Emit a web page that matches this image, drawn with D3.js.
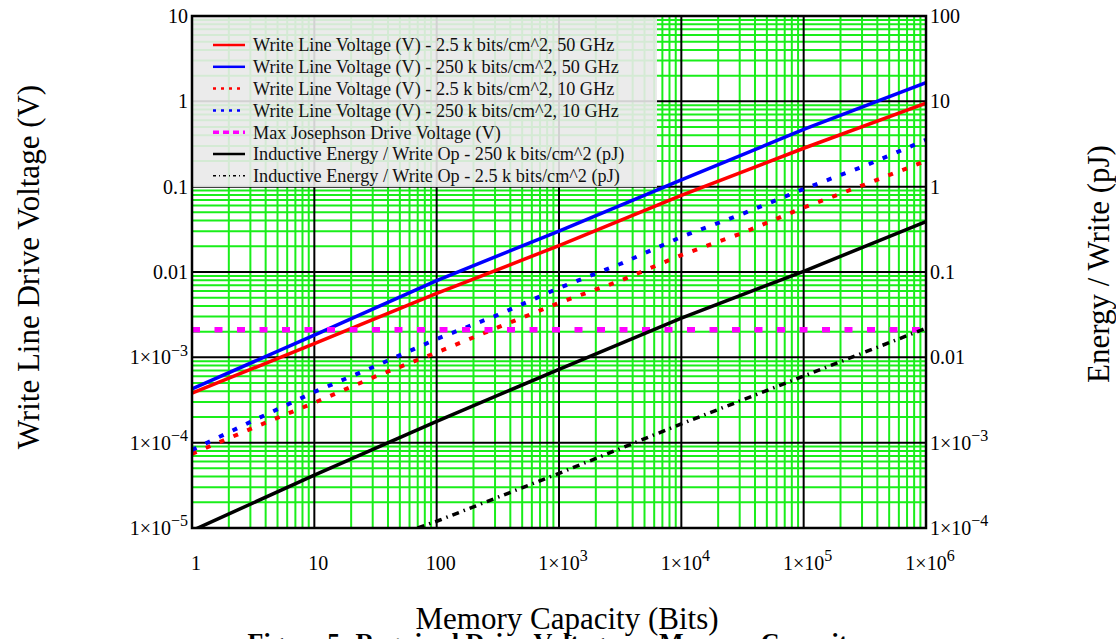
<!DOCTYPE html>
<html lang="en">
<head>
<meta charset="UTF-8">
<title>Write Line Drive Voltage vs Memory Capacity</title>
<script src="https://cdn.jsdelivr.net/npm/d3@7"></script>
<style>
  body { margin: 0; background: #fff; }
  svg { font-family: "Liberation Serif", "Times New Roman", serif; }
  .grid-minor line { stroke: #1aee1a; stroke-width: 2; }
  .grid-major line { stroke: #000; stroke-width: 2; }
  .tick-label { font-size: 20px; fill: #000; }
  .axis-title { font-size: 31px; fill: #000; }
  .legend text { font-size: 18.2px; fill: #111; }
</style>
</head>
<body>
<svg id="chart" width="1116" height="639"></svg>
<script>
// memory capacity (bits) sample points
var capacity = [1, 10, 100, 1000, 10000, 100000, 1000000];
var capacityHalf = [1, 3.162, 10, 31.62, 100, 316.2, 1000, 3162, 10000, 31623, 100000, 316228, 1000000];
var capacityDashDot = [70, 100, 1000, 10000, 100000, 1000000];
var capacityFlat = [1, 1000000];

// write line voltage (V), left axis
var v2k5at50 = [3.8e-4, 1.45e-3, 5.6e-3, 0.0204, 0.079, 0.282, 0.955];
var v250kat50 = [4.27e-4, 1.82e-3, 7.94e-3, 0.0302, 0.120, 0.468, 1.66];
var v2k5at10 = [7.4e-5, 1.49e-4, 2.94e-4, 5.97e-4, 1.14e-3, 2.24e-3, 4.35e-3, 7.9e-3, 0.0158, 0.0287, 0.057, 0.106, 0.200];
var v250kat10 = [8.2e-5, 1.81e-4, 3.93e-4, 7.9e-4, 1.64e-3, 3.14e-3, 6.5e-3, 0.0124, 0.0258, 0.048, 0.094, 0.175, 0.354];
var maxJosephson = [2.1e-3, 2.1e-3];

// inductive energy per write (pJ), right axis
var e250k = [9.3e-5, 4.17e-4, 1.78e-3, 7.24e-3, 0.0288, 0.102, 0.389];
var e2k5 = [1.0e-4, 1.2e-4, 4.37e-4, 1.66e-3, 6.03e-3, 0.0219];

var xTicks = [1, 10, 100, 1e3, 1e4, 1e5, 1e6];
var yLeftTicks = [10, 1, 0.1, 0.01, 1e-3, 1e-4, 1e-5];
var yRightTicks = [100, 10, 1, 0.1, 0.01, 1e-3, 1e-4];

var legendLabels = [
    "Write Line Voltage (V) - 2.5 k bits/cm^2, 50 GHz",
    "Write Line Voltage (V) - 250 k bits/cm^2, 50 GHz",
    "Write Line Voltage (V) - 2.5 k bits/cm^2, 10 GHz",
    "Write Line Voltage (V) - 250 k bits/cm^2, 10 GHz",
    "Max Josephson Drive Voltage (V)",
    "Inductive Energy / Write Op - 250 k bits/cm^2 (pJ)",
    "Inductive Energy / Write Op - 2.5 k bits/cm^2 (pJ)"
];

var svg = d3.select("svg#chart");
var plotLeft = 192, plotRight = 926, plotTop = 16, plotBottom = 528;

var x = d3.scaleLog().domain([1, 1e6]).range([plotLeft, plotRight]);
var yL = d3.scaleLog().domain([1e-5, 10]).range([plotBottom, plotTop]);
var yR = d3.scaleLog().domain([1e-4, 100]).range([plotBottom, plotTop]);

svg.append("defs").append("clipPath").attr("id", "plotClip")
    .append("rect")
    .attr("x", plotLeft).attr("y", plotTop)
    .attr("width", plotRight - plotLeft).attr("height", plotBottom - plotTop);

// grid lines: minor (green) and decades (black)
var xMinor = [], yMinor = [];
for (var d = 0; d < 6; d++) {
    for (var k = 2; k < 10; k++) xMinor.push(k * Math.pow(10, d));
}
for (var e = -5; e < 1; e++) {
    for (var k2 = 2; k2 < 10; k2++) yMinor.push(k2 * Math.pow(10, e));
}

var minor = svg.append("g").attr("class", "grid-minor");
minor.selectAll("line.v").data(xMinor).enter().append("line").attr("class", "v")
    .attr("x1", function (d) { return x(d); }).attr("x2", function (d) { return x(d); })
    .attr("y1", plotTop).attr("y2", plotBottom);
minor.selectAll("line.h").data(yMinor).enter().append("line").attr("class", "h")
    .attr("y1", function (d) { return yL(d); }).attr("y2", function (d) { return yL(d); })
    .attr("x1", plotLeft).attr("x2", plotRight);

var major = svg.append("g").attr("class", "grid-major");
major.selectAll("line.v").data(xTicks.slice(1, -1)).enter().append("line").attr("class", "v")
    .attr("x1", function (d) { return x(d); }).attr("x2", function (d) { return x(d); })
    .attr("y1", plotTop).attr("y2", plotBottom);
major.selectAll("line.h").data(yLeftTicks.slice(1, -1)).enter().append("line").attr("class", "h")
    .attr("y1", function (d) { return yL(d); }).attr("y2", function (d) { return yL(d); })
    .attr("x1", plotLeft).attr("x2", plotRight);

// legend box sits under the curves but over the grid
var legend = svg.append("g").attr("class", "legend");
legend.append("rect")
    .attr("x", plotLeft + 1).attr("y", plotTop + 1)
    .attr("width", 464).attr("height", 170)
    .attr("fill", "#e9e9e9").attr("fill-opacity", 0.9);

// series
var series = [
    {xs: capacity, ys: v2k5at50, axis: yL, color: "#ff0000", width: 3.5, dash: null},
    {xs: capacity, ys: v250kat50, axis: yL, color: "#0000ff", width: 3.5, dash: null},
    {xs: capacityHalf, ys: v2k5at10, axis: yL, color: "#ff0000", width: 4, dash: "5,10"},
    {xs: capacityHalf, ys: v250kat10, axis: yL, color: "#0000ff", width: 4, dash: "5,10"},
    {xs: capacityFlat, ys: maxJosephson, axis: yL, color: "#ff00ff", width: 5.5, dash: "8,14.5"},
    {xs: capacity, ys: e250k, axis: yR, color: "#000000", width: 3.5, dash: null},
    {xs: capacityDashDot, ys: e2k5, axis: yR, color: "#000000", width: 3.5, dash: "7,5,1.5,5"}
];

var plot = svg.append("g").attr("clip-path", "url(#plotClip)");
series.forEach(function (s) {
    var pts = s.xs.map(function (n, i) { return [n, s.ys[i]]; });
    var line = d3.line()
        .x(function (p) { return x(p[0]); })
        .y(function (p) { return s.axis(p[1]); });
    plot.append("path")
        .datum(pts)
        .attr("d", line)
        .attr("fill", "none")
        .attr("stroke", s.color)
        .attr("stroke-width", s.width)
        .attr("stroke-dasharray", s.dash);
});

// legend entries
var legendStyle = [
    {color: "#ff0000", width: 2.5, dash: null},
    {color: "#0000ff", width: 2.5, dash: null},
    {color: "#ff0000", width: 2.5, dash: "3,5"},
    {color: "#0000ff", width: 2.5, dash: "3,5"},
    {color: "#ff00ff", width: 3.5, dash: "6,4"},
    {color: "#000000", width: 2.5, dash: null},
    {color: "#000000", width: 1.5, dash: "3,3,1,3"}
];
var rows = legend.selectAll("g.row").data(legendLabels).enter().append("g")
    .attr("class", "row")
    .attr("transform", function (d, i) { return "translate(0," + (45 + i * 21.8) + ")"; });
rows.append("line")
    .attr("x1", 213).attr("x2", 245)
    .attr("stroke", function (d, i) { return legendStyle[i].color; })
    .attr("stroke-width", function (d, i) { return legendStyle[i].width; })
    .attr("stroke-dasharray", function (d, i) { return legendStyle[i].dash; });
rows.append("text")
    .attr("x", 253).attr("dy", "0.35em")
    .text(function (d) { return d; });

// frame
svg.append("rect")
    .attr("x", plotLeft).attr("y", plotTop)
    .attr("width", plotRight - plotLeft).attr("height", plotBottom - plotTop)
    .attr("fill", "none").attr("stroke", "#000").attr("stroke-width", 2.5);

// tick labels, 1×10^n style outside of 0.01..100
function writeTick(sel, v) {
    var p = Math.round(Math.log10(v));
    if (p >= -2 && p <= 2) {
        sel.text(v >= 1 ? String(v) : v.toFixed(-p));
    } else {
        sel.append("tspan").text("1\u00d710");
        sel.append("tspan")
            .attr("font-size", "16px")
            .attr("dy", "-0.55em")
            .text(String(p).replace("-", "\u2212"));
    }
}

svg.append("g").selectAll("text").data(xTicks).enter().append("text")
    .attr("class", "tick-label")
    .attr("x", function (d) { return x(d) + 4; })
    .attr("y", 570)
    .attr("text-anchor", "middle")
    .each(function (d) { writeTick(d3.select(this), d); });

svg.append("g").selectAll("text").data(yLeftTicks).enter().append("text")
    .attr("class", "tick-label")
    .attr("x", plotLeft - 4)
    .attr("y", function (d) { return yL(d) + 7; })
    .attr("text-anchor", "end")
    .each(function (d) { writeTick(d3.select(this), d); });

svg.append("g").selectAll("text").data(yRightTicks).enter().append("text")
    .attr("class", "tick-label")
    .attr("x", plotRight + 4)
    .attr("y", function (d) { return yR(d) + 7; })
    .each(function (d) { writeTick(d3.select(this), d); });

// axis titles
svg.append("text").attr("class", "axis-title")
    .attr("text-anchor", "middle")
    .attr("transform", "translate(39,267) rotate(-90)")
    .text("Write Line Drive Voltage (V)");

svg.append("text").attr("class", "axis-title")
    .attr("text-anchor", "middle")
    .attr("transform", "translate(1109,264) rotate(-90)")
    .text("Energy / Write (pJ)");

svg.append("text").attr("class", "axis-title")
    .attr("text-anchor", "middle")
    .attr("x", 567).attr("y", 629)
    .text("Memory Capacity (Bits)");

// figure caption, mostly cut off by the page edge
svg.append("text")
    .attr("text-anchor", "middle")
    .attr("x", 554).attr("y", 651)
    .style("font-size", "26px").style("font-weight", "bold")
    .text("Figure 5: Required Drive Voltage vs. Memory Capacity");
</script>
</body>
</html>
